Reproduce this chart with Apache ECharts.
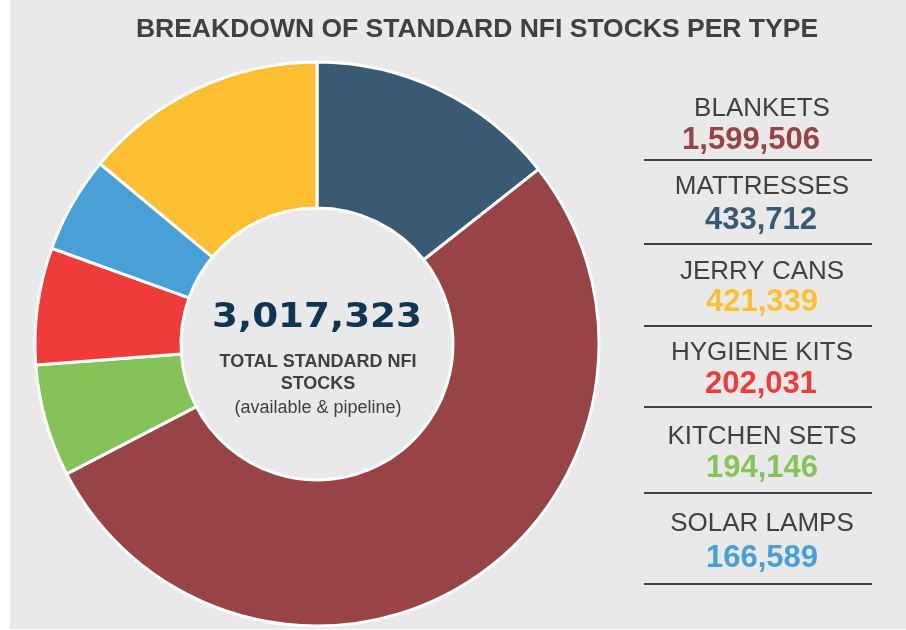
<!DOCTYPE html>
<html><head><meta charset="utf-8">
<script src="https://cdn.jsdelivr.net/npm/echarts@6/dist/echarts.min.js"></script>
<style>html,body{margin:0;padding:0;background:#fff}#c{width:906px;height:630px}</style>
</head><body><div id="c"></div>
<script>
// Data
const title = 'BREAKDOWN OF STANDARD NFI STOCKS PER TYPE';
const pieOrder = ['MATTRESSES','BLANKETS','KITCHEN SETS','HYGIENE KITS','SOLAR LAMPS','JERRY CANS'];
const pieValues = [433712, 1599506, 194146, 202031, 166589, 421339];
const pieColors = ['#395a72','#984447','#85c35a','#ef3c3b','#48a0d6','#fdc033'];
const legendOrder = ['BLANKETS','MATTRESSES','JERRY CANS','HYGIENE KITS','KITCHEN SETS','SOLAR LAMPS'];
const centerLines = ['TOTAL STANDARD NFI', 'STOCKS', '(available & pipeline)'];

const fmt = v => v.toLocaleString('en-US');
const total = pieValues.reduce((a,b)=>a+b,0);

const chart = echarts.init(document.getElementById('c'), null, {renderer:'canvas'});
const graphics = [
  {type:'rect', z:-10, shape:{x:10,y:0,width:896,height:629}, style:{fill:'#e9e9e9'}},
  {type:'text', style:{x:477,y:30,text:title,fill:'#404040',font:'bold 26.5px "Liberation Sans", Arial, sans-serif',align:'center',verticalAlign:'middle'}},
  {type:'text', x:317, y:318, scaleX:1.13, style:{x:0,y:0,text:fmt(total),fill:'#0f3553',font:'bold 33px "DejaVu Sans", Verdana, sans-serif',align:'center',verticalAlign:'middle'}},
  {type:'text', style:{x:318,y:362,text:centerLines[0],fill:'#404040',font:'bold 18px "Liberation Sans", Arial, sans-serif',align:'center',verticalAlign:'middle'}},
  {type:'text', style:{x:318,y:384,text:centerLines[1],fill:'#404040',font:'bold 18px "Liberation Sans", Arial, sans-serif',align:'center',verticalAlign:'middle'}},
  {type:'text', style:{x:318,y:408,text:centerLines[2],fill:'#404040',font:'18px "Liberation Sans", Arial, sans-serif',align:'center',verticalAlign:'middle'}}
];
const nameY = [109,187,272,353,437,524];
const valY = [140,220,302,384,468,558];
const valX = [751,761,762,761,762,762];
const lineY = [160,244,326,407,493,584];
legendOrder.forEach((n,i)=>{
  const k = pieOrder.indexOf(n);
  graphics.push({type:'text', style:{x:762,y:nameY[i],text:n,fill:'#404040',font:'26px "Liberation Sans", Arial, sans-serif',align:'center',verticalAlign:'middle'}});
  graphics.push({type:'text', style:{x:valX[i],y:valY[i],text:fmt(pieValues[k]),fill:pieColors[k],font:'bold 31px "Liberation Sans", Arial, sans-serif',align:'center',verticalAlign:'middle'}});
  graphics.push({type:'line', shape:{x1:644,y1:lineY[i],x2:872,y2:lineY[i]}, style:{stroke:'#404040',lineWidth:2}});
});

chart.setOption({
  animation:false,
  backgroundColor:'#ffffff',
  graphic: graphics,
  series:[{
    type:'pie',
    center:[317,344],
    radius:[136,282],
    startAngle:90,
    clockwise:true,
    label:{show:false},
    labelLine:{show:false},
    emphasis:{disabled:true},
    itemStyle:{borderColor:'#ffffff',borderWidth:3},
    data: pieOrder.map((n,i)=>({name:n,value:pieValues[i],itemStyle:{color:pieColors[i]}}))
  }]
});
</script></body></html>
